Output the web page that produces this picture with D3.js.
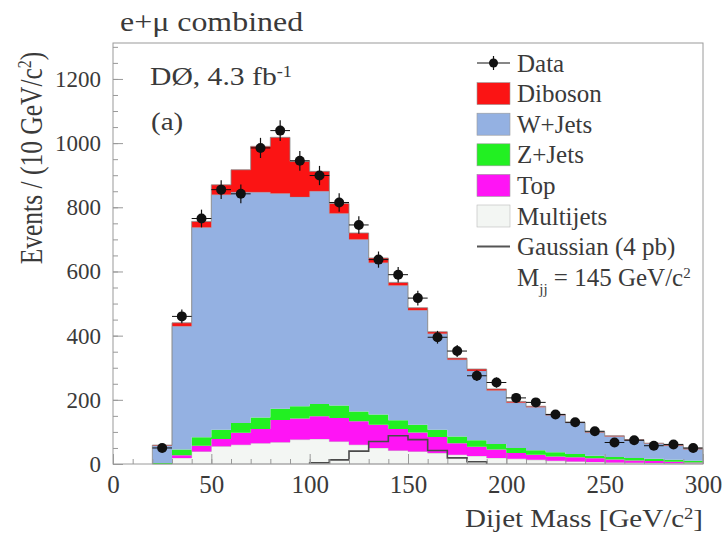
<!DOCTYPE html>
<html>
<head>
<meta charset="utf-8">
<script src="https://cdn.jsdelivr.net/npm/d3@7"></script>
<style>
  body { margin: 0; background: #fff; }
  svg { font-family: "Liberation Serif", "DejaVu Serif", serif; }
  .txt { fill: #3a3a3a; }
</style>
</head>
<body>
<div class="chart"></div>
<script>
// bins (low edge, 10 GeV wide)
var binLow = [20, 30, 40, 50, 60, 70, 80, 90, 100, 110, 120, 130, 140, 150,
              160, 170, 180, 190, 200, 210, 220, 230, 240, 250, 260, 270, 280, 290];

// stacked backgrounds, bottom to top
var multijets = [0, 19, 39, 55, 60, 65, 68, 76, 78, 70, 60, 50, 42, 39,
                 34, 29, 25, 19, 16, 13, 10, 8, 6, 5, 4, 3, 2, 2];
var topq = [0, 8, 18, 23, 37, 44, 69, 66, 71, 73, 73, 72, 67, 59,
            50, 36, 29, 26, 18, 16, 13, 13, 12, 9, 7, 6, 5, 3];
var zjets = [3, 18, 26, 29, 31, 36, 35, 38, 38, 39, 31, 32, 27, 24,
             23, 21, 20, 17, 16, 14, 14, 10, 8, 8, 8, 7, 6, 5];
var wjets = [54, 384, 654, 732, 719, 702, 671, 652, 663, 599, 536, 473, 420, 357,
             299, 239, 216, 167, 141, 134, 115, 97, 72, 64, 55, 47, 44, 36];
var diboson = [2, 11, 19, 31, 70, 143, 175, 111, 62, 31, 20, 15, 10, 8,
               6, 5, 6, 5, 4, 3, 3, 2, 2, 2, 2, 2, 2, 2];

var data = [50, 460, 765, 855, 842, 985, 1039, 945, 899, 815, 745, 637, 590, 517,
            395, 352, 275, 254, 206, 192, 154, 130, 102, 67, 74, 57, 61, 50];

// gaussian signal, M_jj = 145
var gausLow = [100, 110, 120, 130, 140, 150, 160, 170, 180];
var gausVal = [4, 13, 40, 70, 88, 76, 42, 19, 7];

var xTicks = [0, 50, 100, 150, 200, 250, 300];
var yTicks = [0, 200, 400, 600, 800, 1000, 1200];

var keys = ["multijets", "top", "zjets", "wjets", "diboson"];
var colors = {multijets: "#f3f6f3", top: "#ff14f5", zjets: "#22f022",
              wjets: "#94b1e2", diboson: "#fb1414"};
var legendRows = [
  {label: "Diboson", key: "diboson"},
  {label: "W+Jets", key: "wjets"},
  {label: "Z+Jets", key: "zjets"},
  {label: "Top", key: "top"},
  {label: "Multijets", key: "multijets"}
];

var W = 726, H = 536;
var margin = {top: 43, right: 23, bottom: 72, left: 113};
var width = W - margin.left - margin.right;
var height = H - margin.top - margin.bottom;

var svg = d3.select(".chart").append("svg")
    .attr("width", W)
    .attr("height", H);

var g = svg.append("g")
    .attr("transform", "translate(" + margin.left + "," + margin.top + ")");

var x = d3.scaleLinear().domain([0, 300]).range([0, width]);
var y = d3.scaleLinear().domain([0, 1312]).range([height, 0]);

// table for the stack
var table = binLow.map(function(lo, i) {
    return {lo: lo, multijets: multijets[i], top: topq[i], zjets: zjets[i],
            wjets: wjets[i], diboson: diboson[i]};
});
// extra point so the last step reaches the bin end
var last = Object.assign({}, table[table.length - 1]);
last.lo = 300;
table.push(last);

var series = d3.stack().keys(keys)(table);

var area = d3.area()
    .curve(d3.curveStepAfter)
    .x(function(d) { return x(d.data.lo); })
    .y0(function(d) { return y(d[0]); })
    .y1(function(d) { return y(d[1]); });

g.append("g").selectAll("path")
    .data(series)
    .enter().append("path")
    .attr("d", area)
    .attr("fill", function(d) { return colors[d.key]; })
    .attr("stroke", function(d) { return d.key == "multijets" ? "#bbb" : "none"; })
    .attr("stroke-width", 0.8);

// outline of total stack
var outline = d3.line()
    .curve(d3.curveStepAfter)
    .x(function(d) { return x(d.data.lo); })
    .y(function(d) { return y(d[1]); });
g.append("path")
    .attr("d", "M" + x(binLow[0]) + "," + y(0) + "L" + outline(series[4]).slice(1) + "L" + x(300) + "," + y(0))
    .attr("fill", "none")
    .attr("stroke", "#8a8a8a")
    .attr("stroke-width", 0.8);
g.append("path")
    .attr("d", outline(series[3]))
    .attr("fill", "none")
    .attr("stroke", "#8a8a8a")
    .attr("stroke-width", 0.5)
    .attr("stroke-opacity", 0.6);

// gaussian line
var gpts = [[gausLow[0], 0]];
gausLow.forEach(function(lo, i) { gpts.push([lo, gausVal[i]]); });
gpts.push([gausLow[gausLow.length - 1] + 10, gausVal[gausVal.length - 1]]);
gpts.push([gausLow[gausLow.length - 1] + 10, 0]);
g.append("path")
    .attr("d", d3.line().curve(d3.curveStepAfter)
        .x(function(d) { return x(d[0]); })
        .y(function(d) { return y(d[1]); })(gpts))
    .attr("fill", "none")
    .attr("stroke", "#4a4a4a")
    .attr("stroke-width", 1.6);

// data points with errors
var pts = g.append("g").selectAll("g")
    .data(binLow.map(function(lo, i) { return {lo: lo, v: data[i]}; }))
    .enter().append("g");
pts.append("line")
    .attr("x1", function(d) { return x(d.lo); })
    .attr("x2", function(d) { return x(d.lo + 10); })
    .attr("y1", function(d) { return y(d.v); })
    .attr("y2", function(d) { return y(d.v); })
    .attr("stroke", "#111").attr("stroke-width", 1);
pts.append("line")
    .attr("x1", function(d) { return x(d.lo + 5); })
    .attr("x2", function(d) { return x(d.lo + 5); })
    .attr("y1", function(d) { return y(d.v - Math.sqrt(d.v)); })
    .attr("y2", function(d) { return y(d.v + Math.sqrt(d.v)); })
    .attr("stroke", "#111").attr("stroke-width", 1.2);
pts.append("circle")
    .attr("cx", function(d) { return x(d.lo + 5); })
    .attr("cy", function(d) { return y(d.v); })
    .attr("r", 5)
    .attr("fill", "#111");

// frame
g.append("rect")
    .attr("width", width).attr("height", height)
    .attr("fill", "none")
    .attr("stroke", "#9a9a9a")
    .attr("stroke-width", 1);

// axes (ticks inside)
var xAxis = d3.axisBottom(x).tickValues(xTicks).tickSize(-10).tickPadding(11)
    .tickFormat(d3.format("d"));
var xMinor = d3.axisBottom(x).ticks(30).tickSize(-5).tickFormat("");
var yAxis = d3.axisLeft(y).tickValues(yTicks).tickSize(-10).tickPadding(12)
    .tickFormat(d3.format("d"));
var yMinor = d3.axisLeft(y).tickValues(d3.range(0, 1312, 50)).tickSize(-5).tickFormat("");

[g.append("g").attr("transform", "translate(0," + height + ")").call(xMinor),
 g.append("g").call(yMinor)].forEach(function(a) {
    a.select(".domain").remove();
    a.selectAll("line").attr("stroke", "#999");
});

var gx = g.append("g").attr("transform", "translate(0," + height + ")").call(xAxis);
var gy = g.append("g").call(yAxis);
[gx, gy].forEach(function(a) {
    a.select(".domain").remove();
    a.selectAll("line").attr("stroke", "#999");
    a.selectAll("text")
        .attr("class", "txt")
        .style("font-family", "Liberation Serif")
        .style("font-size", "23px");
});
gx.selectAll("text").style("font-size", "25px");

// axis titles (the original figure is slightly stretched sideways)
svg.append("text")
    .attr("class", "txt")
    .attr("transform", "translate(703,527) scale(1.16,1)")
    .attr("text-anchor", "end")
    .style("font-size", "25px")
    .html('Dijet Mass [GeV/c<tspan baseline-shift="super" font-size="16px">2</tspan>]');

svg.append("text")
    .attr("class", "txt")
    .attr("transform", "translate(42,158) scale(1.2,1) rotate(-90)")
    .attr("text-anchor", "middle")
    .style("font-size", "25.5px")
    .html('Events / (10 GeV/c<tspan baseline-shift="super" font-size="16px">2</tspan>)');

svg.append("text")
    .attr("class", "txt")
    .attr("transform", "translate(120,31) scale(1.14,1)")
    .style("font-size", "28px")
    .text("e+\u03bc combined");

svg.append("text")
    .attr("class", "txt")
    .attr("transform", "translate(150,85) scale(1.14,1)")
    .style("font-size", "26px")
    .html('D\u00d8, 4.3 fb<tspan baseline-shift="super" font-size="16px">-1</tspan>');

svg.append("text")
    .attr("class", "txt")
    .attr("transform", "translate(151,130) scale(1.12,1)")
    .style("font-size", "26px")
    .text("(a)");

// legend
var lg = svg.append("g").attr("transform", "translate(477,63)");
var rowH = 30.6;

lg.append("line").attr("x1", 0).attr("x2", 33).attr("y1", 0).attr("y2", 0)
    .attr("stroke", "#111").attr("stroke-width", 1.2);
lg.append("line").attr("x1", 16.5).attr("x2", 16.5).attr("y1", -7).attr("y2", 7)
    .attr("stroke", "#111").attr("stroke-width", 1.2);
lg.append("circle").attr("cx", 16.5).attr("cy", 0).attr("r", 4.5).attr("fill", "#111");
lg.append("text").attr("class", "txt").attr("x", 40).attr("y", 8.5)
    .style("font-size", "25px").text("Data");

legendRows.forEach(function(r, i) {
    var yy = (i + 1) * rowH;
    lg.append("rect")
        .attr("x", 0).attr("y", yy - 11)
        .attr("width", 33).attr("height", 22)
        .attr("fill", colors[r.key])
        .attr("stroke", r.key == "multijets" ? "#bbb" : "#999")
        .attr("stroke-width", 0.6);
    lg.append("text").attr("class", "txt").attr("x", 40).attr("y", yy + 8.5)
        .style("font-size", "25px").text(r.label);
});

var gy0 = 6 * rowH;
lg.append("line").attr("x1", 0).attr("x2", 33).attr("y1", gy0).attr("y2", gy0)
    .attr("stroke", "#555").attr("stroke-width", 2);
lg.append("text").attr("class", "txt").attr("x", 40).attr("y", gy0 + 8.5)
    .style("font-size", "25px").text("Gaussian (4 pb)");
lg.append("text").attr("class", "txt").attr("x", 40).attr("y", 7 * rowH + 8.5)
    .style("font-size", "25px")
    .html('M<tspan baseline-shift="sub" font-size="15px">jj</tspan> = 145 GeV/c<tspan baseline-shift="super" font-size="15px">2</tspan>');
</script>
</body>
</html>
